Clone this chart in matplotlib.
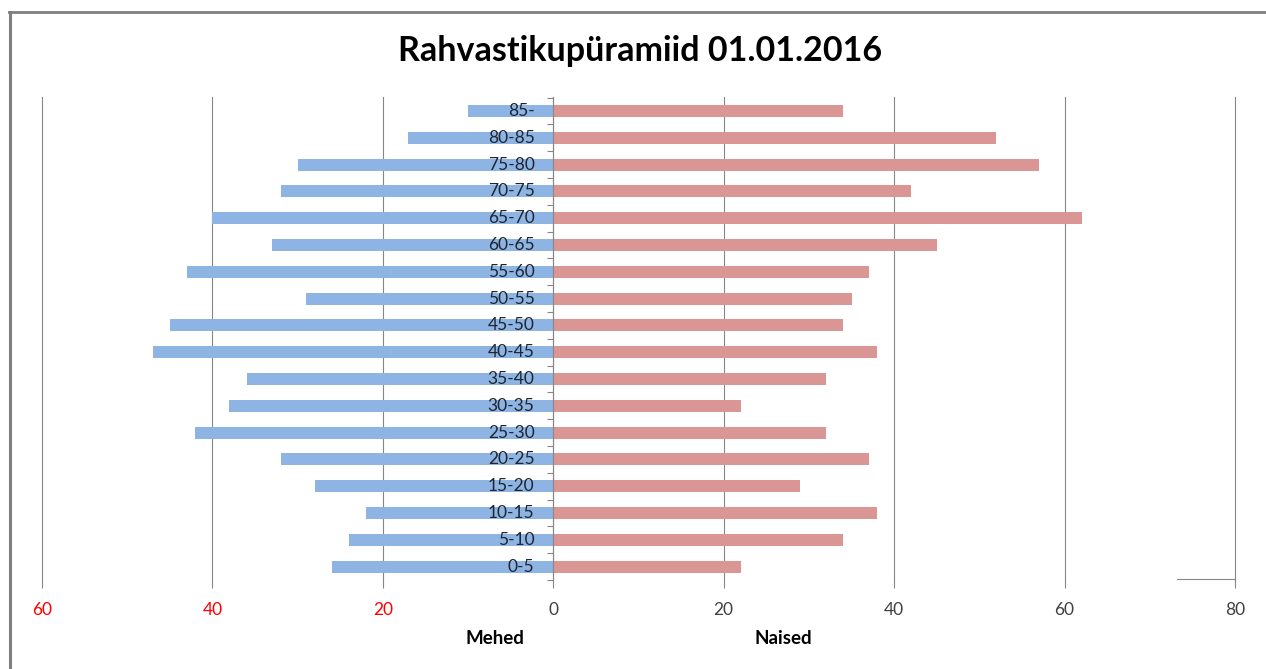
import numpy as np
import matplotlib.pyplot as plt
from matplotlib.lines import Line2D

# vanuserühmad alt üles
groups = ['0-5', '5-10', '10-15', '15-20', '20-25', '25-30', '30-35', '35-40', '40-45',
          '45-50', '50-55', '55-60', '60-65', '65-70', '70-75', '75-80', '80-85', '85-']
mehed = [26, 24, 22, 28, 32, 42, 38, 36, 47, 45, 29, 43, 33, 40, 32, 30, 17, 10]
naised = [22, 34, 38, 29, 37, 32, 22, 32, 38, 34, 35, 37, 45, 62, 42, 57, 52, 34]
xticks = [-60, -40, -20, 0, 20, 40, 60, 80]
xlabels = ['60', '40', '20', '0', '20', '40', '60', '80']

plt.rcParams['font.family'] = ['Lato', 'DejaVu Sans']
W, H = 1266, 669
fig = plt.figure(figsize=(W / 100, H / 100), dpi=100)
ax = fig.add_axes([42 / W, 1 - 580 / H, (1235 - 42) / W, (580 - 97) / H])

y = np.arange(len(groups))
ax.barh(y, -np.array(mehed), height=0.45, color='#8DB4E2', zorder=2)
ax.barh(y, naised, height=0.45, color='#DA9694', zorder=2)

for i, g in enumerate(groups):
    ax.text(-2.2, i, g, ha='right', va='center', fontsize=12.5, color='#1E2633', zorder=3)

ax.set_xlim(-60, 80)
ax.set_ylim(-0.45, len(groups) - 0.48)

ax.set_xticks(xticks)
ax.set_xticklabels(xlabels, fontsize=12.5)
for lab, v in zip(ax.get_xticklabels(), xticks):
    lab.set_color('#FF0000' if v < 0 else '#404040')
ax.tick_params(axis='x', length=6, color='#868686', width=0.8, pad=10)
ax.grid(axis='x', color='#868686', linewidth=0.8, zorder=0)
for gl in ax.get_xgridlines():
    gl.set_clip_on(False)

# keskmine telg nulli kohal
ax.spines['left'].set_position(('data', 0))
ax.spines['left'].set_color('#868686')
ax.spines['left'].set_zorder(2.5)
ax.set_yticks([])
ax.set_yticks(np.arange(-0.5, len(groups), 1), minor=True)
ax.tick_params(axis='y', which='minor', length=4, color='#868686', width=0.8, direction='out')
for s in ['right', 'top', 'bottom']:
    ax.spines[s].set_visible(False)
ax.plot([73.2, 80], [-0.45, -0.45], color='#868686', linewidth=0.8, clip_on=False)

fig.text(640 / W, 1 - 51 / H, 'Rahvastikupüramiid 01.01.2016', ha='center', va='center',
         fontsize=24.5, fontweight='bold', color='#000000')
fig.text(495 / W, 1 - 638 / H, 'Mehed', ha='center', va='center', fontsize=13.5, fontweight='bold')
fig.text(783 / W, 1 - 638 / H, 'Naised', ha='center', va='center', fontsize=13.5, fontweight='bold')

# raam
fig.add_artist(Line2D([10 / W, 10 / W], [0, 1 - 12 / H], color='#7F7F7F', linewidth=2.2, transform=fig.transFigure))
fig.add_artist(Line2D([9 / W, 1], [1 - 12 / H, 1 - 12 / H], color='#7F7F7F', linewidth=2, transform=fig.transFigure))

fig.savefig('out.png', dpi=100)
